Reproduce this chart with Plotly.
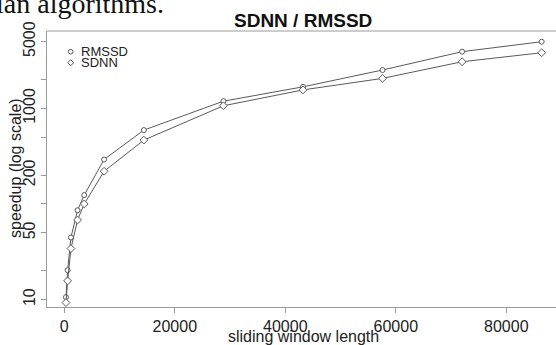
import plotly.graph_objects as go

# ---- data ----
window_length = [300, 600, 1200, 2400, 3600, 7200, 14400, 28800, 43200, 57600, 72000, 86400]
rmssd_speedup = [10.6, 20.3, 44.6, 86, 124, 292, 593, 1190, 1680, 2520, 3920, 4980]
sdnn_speedup = [9.3, 15.7, 34.2, 68, 100, 220, 466, 1065, 1560, 2060, 3075, 3820]

x_tickvals = [0, 20000, 40000, 60000, 80000]
x_ticktext = ["0", "20000", "40000", "60000", "80000"]
y_tickvals = [10, 20, 50, 100, 200, 500, 1000, 2000, 5000]
y_ticktext = ["10", "", "50", "", "200", "", "1000", "", "5000"]

series_names = ["RMSSD", "SDNN"]

# ---- layout geometry ----
W, H = 556, 345
L, R, T, B = 47, 0, 31, 38
PW, PH = W - L - R, H - T - B

def px(x):
    return (x - L) / PW

def py(y):
    return (H - B - y) / PH

FONT = "Liberation Sans, Arial, Helvetica, sans-serif"
LINE_COL = "#5a5a5a"
AXIS_COL = "#9a9a9a"

fig = go.Figure()
fig.add_trace(go.Scatter(
    x=window_length, y=rmssd_speedup, mode="lines+markers", name=series_names[0],
    line=dict(color=LINE_COL, width=1),
    marker=dict(symbol="circle", size=5, color="white", line=dict(color=LINE_COL, width=1)),
))
fig.add_trace(go.Scatter(
    x=window_length, y=sdnn_speedup, mode="lines+markers", name=series_names[1],
    line=dict(color=LINE_COL, width=1),
    marker=dict(symbol="diamond", size=6, color="white", line=dict(color=LINE_COL, width=1)),
))

axis_common = dict(
    showline=True, linecolor=AXIS_COL, linewidth=1,
    ticks="outside", ticklen=5, tickcolor=AXIS_COL, tickwidth=1,
    showgrid=False, zeroline=False, automargin=False,
    tickfont=dict(family=FONT, size=16, color="#222222"),
)

fig.update_layout(
    width=W, height=H,
    margin=dict(l=L, r=R, t=T, b=B, pad=0),
    paper_bgcolor="white", plot_bgcolor="white",
    showlegend=False,
    xaxis=dict(range=[-3131, 88995], tickvals=x_tickvals, ticktext=x_ticktext, **axis_common),
    yaxis=dict(type="log", range=[0.9225, 3.8094], tickvals=y_tickvals, ticktext=y_ticktext,
               tickangle=-90, **axis_common),
)

# top border of the box
fig.add_shape(type="line", xref="paper", yref="paper", x0=0, x1=1, y0=1, y1=1,
              line=dict(color=AXIS_COL, width=1))

# legend (drawn manually for R-like tight spacing)
r = 2.3
lx, ly1, ly2 = 70.7, 51.7, 62.7
fig.add_shape(type="circle", xref="paper", yref="paper",
              x0=px(lx - r), x1=px(lx + r), y0=py(ly1 + r), y1=py(ly1 - r),
              line=dict(color=LINE_COL, width=1), fillcolor="white")
d = 3.0
path = (f"M {px(lx)},{py(ly2 - d)} L {px(lx + d)},{py(ly2)} "
        f"L {px(lx)},{py(ly2 + d)} L {px(lx - d)},{py(ly2)} Z")
fig.add_shape(type="path", xref="paper", yref="paper", path=path,
              line=dict(color=LINE_COL, width=1), fillcolor="white")
for name, yy in zip(series_names, [ly1, ly2]):
    fig.add_annotation(x=px(79), y=py(yy), xref="paper", yref="paper", text=name,
                       showarrow=False, xanchor="left", yanchor="middle",
                       font=dict(family=FONT, size=13, color="#222222"))

# titles
fig.add_annotation(x=px(303), y=py(20.5), xref="paper", yref="paper", text="<b>SDNN / RMSSD</b>",
                   showarrow=False, xanchor="center", yanchor="middle",
                   font=dict(family=FONT, size=19, color="#111111"))
fig.add_annotation(x=px(303.5), y=py(336.5), xref="paper", yref="paper", text="sliding window length",
                   showarrow=False, xanchor="center", yanchor="middle",
                   font=dict(family=FONT, size=16, color="#222222"))
fig.add_annotation(x=px(15), y=py(168), xref="paper", yref="paper", text="speedup (log scale)",
                   showarrow=False, xanchor="center", yanchor="middle", textangle=-90,
                   font=dict(family=FONT, size=16, color="#222222"))

# clipped document text above the figure
fig.add_annotation(x=px(166), y=py(3.2), xref="paper", yref="paper", text="dian algorithms.",
                   showarrow=False, xanchor="right", yanchor="middle",
                   font=dict(family="Liberation Serif, Times New Roman, serif", size=28, color="#111111"))

fig.write_html("out.html",
               config={"displayModeBar": False},
               post_script="document.body.style.margin='0';document.body.style.overflow='hidden';")
